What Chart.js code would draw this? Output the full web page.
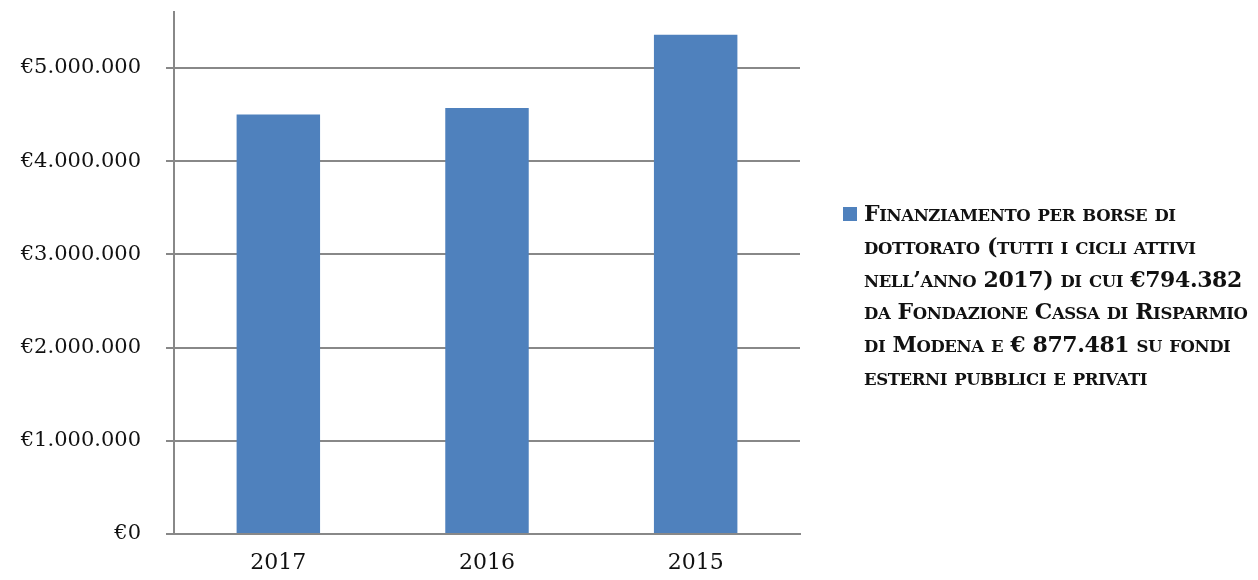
<!DOCTYPE html>
<html>
<head>
<meta charset="utf-8">
<script src="https://cdn.jsdelivr.net/npm/chart.js@4.4.1/dist/chart.umd.min.js"></script>
<style>
    html, body { margin: 0; padding: 0; background: #fff; }
    #wrap { position: relative; width: 1258px; height: 580px; }
    #legend {
        position: absolute; left: 843px; top: 197px; width: 415px;
        font-family: "DejaVu Serif", serif; font-weight: bold;
        font-size: 22px; color: #111; white-space: nowrap;
    }
    #legend .box {
        position: absolute; left: 0; top: 10px; width: 14px; height: 14px; background: #4F81BD;
    }
    #legend .txt { margin-left: 21px; letter-spacing: -0.4px; }
    #legend .riga { height: 32.8px; line-height: 32.8px; }
    #legend .sc { font-size: 16.5px; line-height: 1; text-transform: uppercase; }
</style>
</head>
<body>
<div id="wrap">
    <canvas id="myChart" width="1258" height="580"></canvas>
    <div id="legend"></div>
</div>
<script>
const categories = ['2017', '2016', '2015'];
const valori = [4500000, 4570000, 5355000];
const tickValues = [0, 1000000, 2000000, 3000000, 4000000, 5000000];
const serieLabel = 'Finanziamento per borse di dottorato (tutti i cicli attivi nell\u2019anno 2017) di cui €794.382 da Fondazione Cassa di Risparmio di Modena e € 877.481 su fondi esterni pubblici e privati';
const legendLines = [
    'Finanziamento per borse di',
    'dottorato (tutti i cicli attivi',
    'nell\u2019anno 2017) di cui €794.382',
    'da Fondazione Cassa di Risparmio',
    'di Modena e € 877.481 su fondi',
    'esterni pubblici e privati'
];

function euro(v) {
    return '€' + String(v).replace(/\B(?=(\d{3})+(?!\d))/g, '.');
}

// maiuscoletto: le minuscole diventano maiuscole più piccole
function smallCaps(line) {
    return line.replace(/[a-zà-ù]+/g, m => '<span class="sc">' + m + '</span>');
}

const ctx = document.getElementById('myChart').getContext('2d');
const chart = new Chart(ctx, {
    type: 'bar',
    data: {
        labels: categories,
        datasets: [{
            label: serieLabel,
            data: valori,
            backgroundColor: '#4F81BD',
            borderWidth: 0,
            categoryPercentage: 0.8,
            barPercentage: 0.5
        }]
    },
    options: {
        responsive: false,
        animation: false,
        layout: { padding: { top: 12, right: 458, left: 0, bottom: 0 } },
        plugins: {
            legend: { display: false },
            tooltip: { enabled: false }
        },
        scales: {
            x: {
                grid: { display: false },
                border: { display: true, color: '#888', width: 2 },
                ticks: { color: '#111', font: { family: 'DejaVu Serif', size: 22 }, padding: 8 },
                afterFit: (scale) => { scale.height = 46; }
            },
            y: {
                min: 0,
                max: 5600000,
                afterBuildTicks: (scale) => { scale.ticks = tickValues.map(v => ({ value: v })); },
                grid: { color: '#888', lineWidth: 2, tickLength: 8 },
                border: { display: true, color: '#888', width: 2 },
                ticks: {
                    color: '#111',
                    font: { family: 'DejaVu Serif', size: 21 },
                    padding: 25,
                    callback: (v) => euro(v)
                },
                afterFit: (scale) => {
                    scale.width = 174;
                    scale.paddingTop = 0;
                    scale.paddingBottom = 0;
                }
            }
        }
    }
});

// legenda HTML (testo su più righe)
const leg = document.getElementById('legend');
leg.innerHTML = '<div class="box"></div><div class="txt">' +
    legendLines.map(l => '<div class="riga">' + smallCaps(l) + '</div>').join('') + '</div>';
</script>
</body>
</html>
